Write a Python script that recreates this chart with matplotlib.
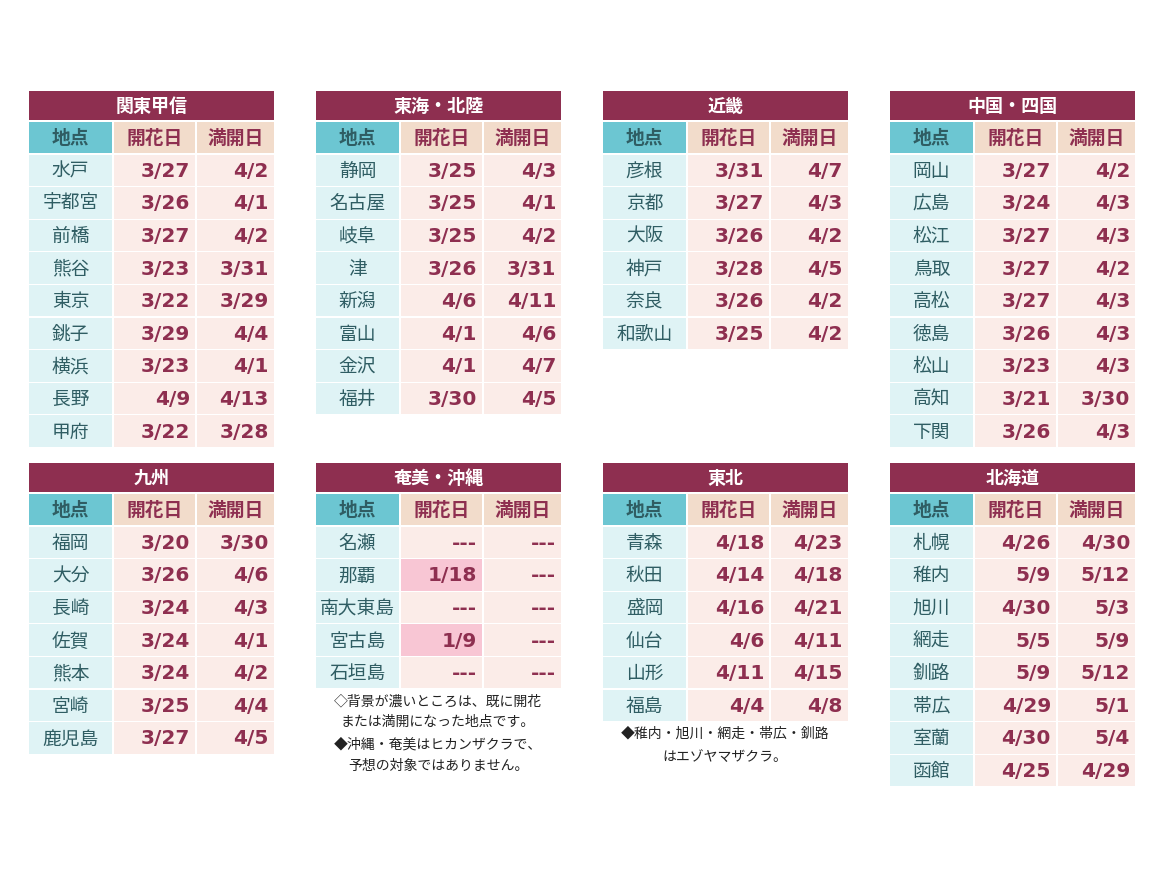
import matplotlib.pyplot as plt
from matplotlib.patches import Rectangle

plt.rcParams['font.family'] = ['Noto Sans CJK JP', 'DejaVu Sans']

# region tables: title, places, bloom (開花日), full bloom (満開日)
kanto_title = '関東甲信'
kanto_places = ['水戸', '宇都宮', '前橋', '熊谷', '東京', '銚子', '横浜', '長野', '甲府']
kanto_bloom = ['3/27', '3/26', '3/27', '3/23', '3/22', '3/29', '3/23', '4/9', '3/22']
kanto_full = ['4/2', '4/1', '4/2', '3/31', '3/29', '4/4', '4/1', '4/13', '3/28']

tokai_title = '東海・北陸'
tokai_places = ['静岡', '名古屋', '岐阜', '津', '新潟', '富山', '金沢', '福井']
tokai_bloom = ['3/25', '3/25', '3/25', '3/26', '4/6', '4/1', '4/1', '3/30']
tokai_full = ['4/3', '4/1', '4/2', '3/31', '4/11', '4/6', '4/7', '4/5']

kinki_title = '近畿'
kinki_places = ['彦根', '京都', '大阪', '神戸', '奈良', '和歌山']
kinki_bloom = ['3/31', '3/27', '3/26', '3/28', '3/26', '3/25']
kinki_full = ['4/7', '4/3', '4/2', '4/5', '4/2', '4/2']

chugoku_title = '中国・四国'
chugoku_places = ['岡山', '広島', '松江', '鳥取', '高松', '徳島', '松山', '高知', '下関']
chugoku_bloom = ['3/27', '3/24', '3/27', '3/27', '3/27', '3/26', '3/23', '3/21', '3/26']
chugoku_full = ['4/2', '4/3', '4/3', '4/2', '4/3', '4/3', '4/3', '3/30', '4/3']

kyushu_title = '九州'
kyushu_places = ['福岡', '大分', '長崎', '佐賀', '熊本', '宮崎', '鹿児島']
kyushu_bloom = ['3/20', '3/26', '3/24', '3/24', '3/24', '3/25', '3/27']
kyushu_full = ['3/30', '4/6', '4/3', '4/1', '4/2', '4/4', '4/5']

okinawa_title = '奄美・沖縄'
okinawa_places = ['名瀬', '那覇', '南大東島', '宮古島', '石垣島']
okinawa_bloom = ['---', '1/18', '---', '1/9', '---']
okinawa_full = ['---', '---', '---', '---', '---']
okinawa_done = ['那覇', '宮古島']  # already bloomed (dark background)

tohoku_title = '東北'
tohoku_places = ['青森', '秋田', '盛岡', '仙台', '山形', '福島']
tohoku_bloom = ['4/18', '4/14', '4/16', '4/6', '4/11', '4/4']
tohoku_full = ['4/23', '4/18', '4/21', '4/11', '4/15', '4/8']

hokkaido_title = '北海道'
hokkaido_places = ['札幌', '稚内', '旭川', '網走', '釧路', '帯広', '室蘭', '函館']
hokkaido_bloom = ['4/26', '5/9', '4/30', '5/5', '5/9', '4/29', '4/30', '4/25']
hokkaido_full = ['4/30', '5/12', '5/3', '5/9', '5/12', '5/1', '5/4', '4/29']

headers = ['地点', '開花日', '満開日']

MAROON = '#8e2f50'
TEAL_HEAD = '#6cc6d2'
BEIGE_HEAD = '#f2dccb'
CYAN = '#dff3f5'
PINK = '#fbece8'
PINK_DARK = '#f8c6d4'
PLACE_TXT = '#2f5d63'

fig = plt.figure(figsize=(11.6, 8.7), dpi=100)
ax = fig.add_axes([0, 0, 1, 1])
ax.set_xlim(0, 1160)
ax.set_ylim(870, 0)
ax.axis('off')

col_w = [85, 83, 79]
row_h = 32.6
gap = 1.2


def cell(x, y, w, h, color):
    ax.add_patch(Rectangle((x + gap / 2, y + gap / 2), w - gap, h - gap,
                           facecolor=color, edgecolor='none'))


def draw_table(x0, y0, title, places, bloom, full, done=()):
    total = sum(col_w)
    cell(x0, y0, total, 31, MAROON)
    ax.text(x0 + total / 2, y0 + 15.5, title, color='white', fontsize=13,
            fontweight='bold', ha='center', va='center')
    y = y0 + 31
    xs = [x0, x0 + col_w[0], x0 + col_w[0] + col_w[1]]
    for i, h in enumerate(headers):
        cell(xs[i], y, col_w[i], 33, TEAL_HEAD if i == 0 else BEIGE_HEAD)
        ax.text(xs[i] + col_w[i] / 2, y + 16.5, h, fontsize=13.5, fontweight='bold',
                color=PLACE_TXT if i == 0 else MAROON, ha='center', va='center')
    y += 33
    for p, b, f in zip(places, bloom, full):
        cell(xs[0], y, col_w[0], row_h, CYAN)
        cell(xs[1], y, col_w[1], row_h, PINK_DARK if p in done else PINK)
        cell(xs[2], y, col_w[2], row_h, PINK)
        ax.text(xs[0] + col_w[0] / 2, y + row_h / 2, p, fontsize=13.5,
                color=PLACE_TXT, ha='center', va='center')
        for j, v in ((1, b), (2, f)):
            ax.text(xs[j] + col_w[j] - 6, y + row_h / 2, v, fontsize=14.5,
                    fontweight='semibold', color=MAROON, ha='right', va='center',
                    family=['DejaVu Sans'])
        y += row_h


lefts = [28, 315, 602, 889]
draw_table(lefts[0], 91, kanto_title, kanto_places, kanto_bloom, kanto_full)
draw_table(lefts[1], 91, tokai_title, tokai_places, tokai_bloom, tokai_full)
draw_table(lefts[2], 91, kinki_title, kinki_places, kinki_bloom, kinki_full)
draw_table(lefts[3], 91, chugoku_title, chugoku_places, chugoku_bloom, chugoku_full)
draw_table(lefts[0], 463, kyushu_title, kyushu_places, kyushu_bloom, kyushu_full)
draw_table(lefts[1], 463, okinawa_title, okinawa_places, okinawa_bloom, okinawa_full,
           done=okinawa_done)
draw_table(lefts[2], 463, tohoku_title, tohoku_places, tohoku_bloom, tohoku_full)
draw_table(lefts[3], 463, hokkaido_title, hokkaido_places, hokkaido_bloom, hokkaido_full)

# notes
note_kw = dict(fontsize=10, color='#222222', ha='center', va='center')
ax.text(438, 702, '◇背景が濃いところは、既に開花', **note_kw)
ax.text(438, 722, 'または満開になった地点です。', **note_kw)
ax.text(438, 745, '◆沖縄・奄美はヒカンザクラで、', **note_kw)
ax.text(438, 766, '予想の対象ではありません。', **note_kw)
ax.text(725, 734, '◆稚内・旭川・網走・帯広・釧路', **note_kw)
ax.text(725, 757, 'はエゾヤマザクラ。', **note_kw)

fig.savefig('out.png', dpi=100, facecolor='white')
